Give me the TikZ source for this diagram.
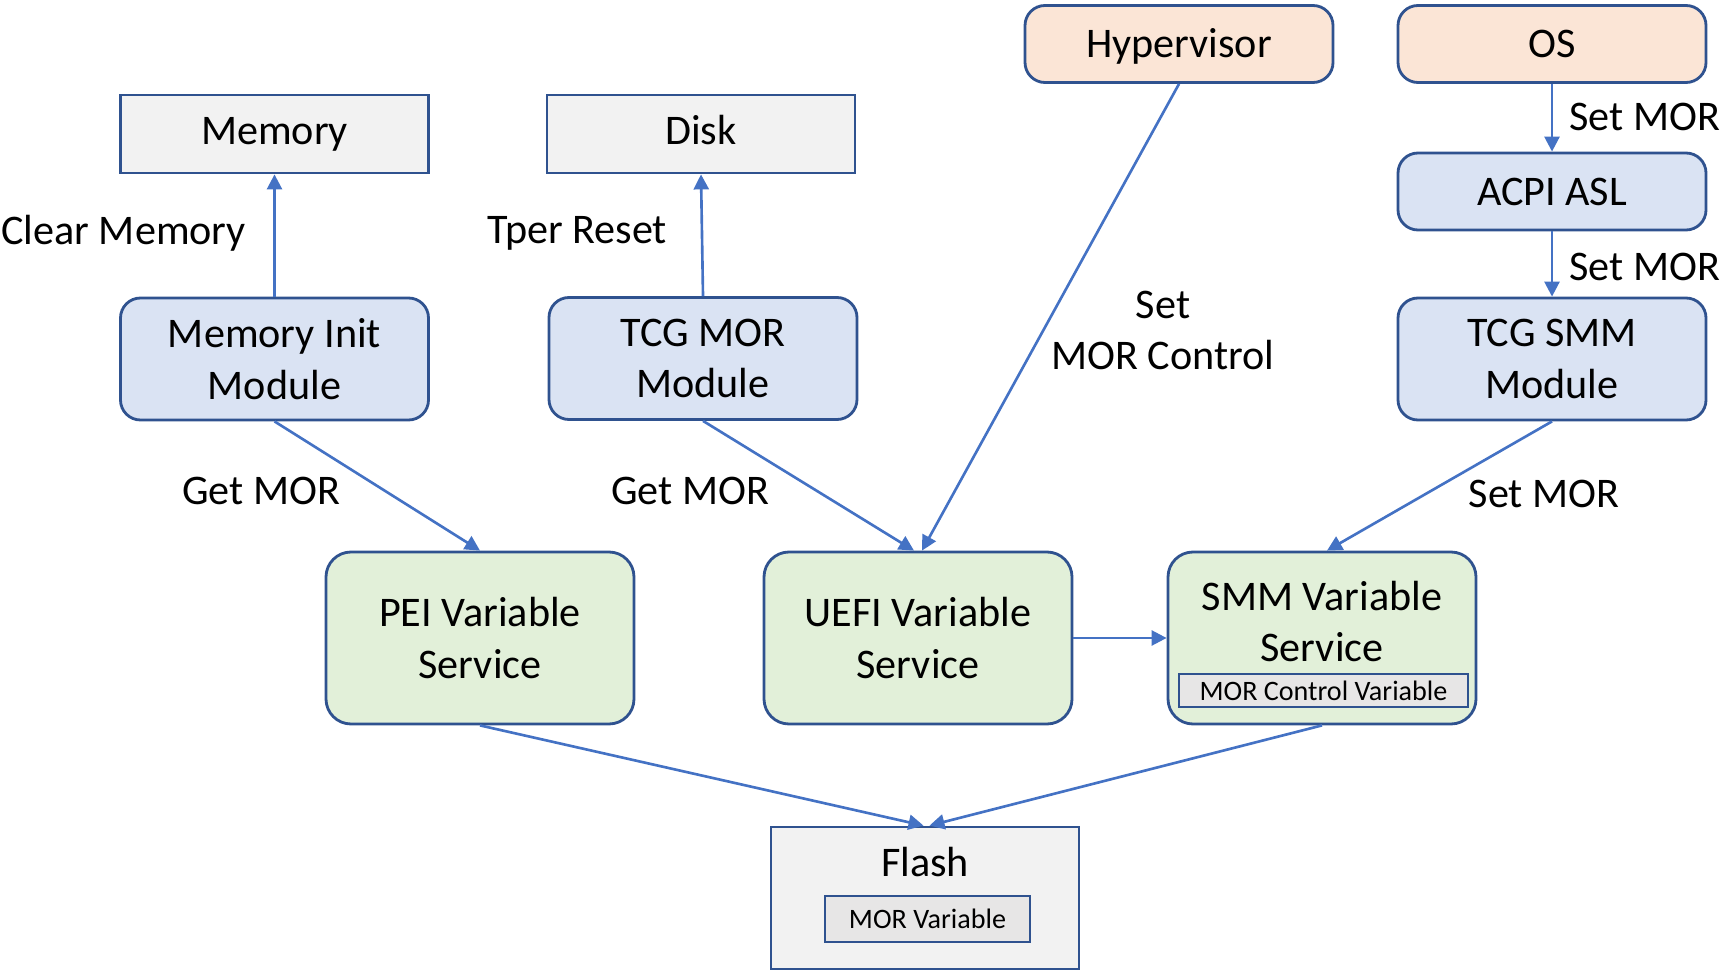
\documentclass[tikz,border=0pt]{standalone}
\usepackage{fontspec}
\setmainfont{Carlito}
\usetikzlibrary{arrows.meta}
\definecolor{lineblue}{HTML}{2F528F}
\definecolor{arrowblue}{HTML}{4472C4}
\definecolor{peach}{HTML}{FBE5D6}
\definecolor{paleblue}{HTML}{DAE3F3}
\definecolor{palegreen}{HTML}{E2F0D9}
\definecolor{palegrey}{HTML}{F2F2F2}
\definecolor{midgrey}{HTML}{E7E6E6}
\tikzset{
  box/.style={draw=lineblue,line width=1.6pt,minimum width=6.16cm,align=center,inner sep=0pt},
  hw/.style={box,fill=palegrey,minimum height=1.56cm,text height=0.64cm,text depth=0.21cm},
  sw/.style={box,rounded corners=0.4cm,fill=peach,minimum height=1.54cm,text height=0.55cm,text depth=0cm},
  module/.style={box,rounded corners=0.4cm,fill=paleblue,minimum height=2.44cm},
  service/.style={box,rounded corners=0.5cm,fill=palegreen,minimum height=3.44cm},
  var/.style={draw=lineblue,line width=1.6pt,fill=midgrey,font=\fontsize{16}{19}\selectfont,inner sep=0pt},
  lbl/.style={inner sep=0pt,align=center},
  flow/.style={->,draw=arrowblue,line width=1.5pt},
}
\begin{document}
\begin{tikzpicture}[font=\fontsize{24}{29.4}\selectfont,>={Triangle[length=0.3cm,width=0.3cm]}]
	\useasboundingbox (0,0) rectangle (34.5,19.42);
	% top row
	\node[hw] (memory) at (5.49,16.74) {Memory};
	\node[hw] (disk) at (14.02,16.74) {Disk};
	\node[sw] (hyper) at (23.58,18.54) {Hypervisor};
	\node[sw] (os) at (31.04,18.54) {OS};
	\node[sw,fill=paleblue] (acpi) at (31.04,15.59) {ACPI ASL};
	% modules
	\node[module] (meminit) at (5.49,12.24) {Memory Init\\Module};
	\node[module] (tcgmor) at (14.06,12.25) {TCG MOR\\Module};
	\node[module] (tcgsmm) at (31.04,12.24) {TCG SMM\\Module};
	% variable services
	\node[service] (pei) at (9.6,6.66) {PEI Variable\\Service};
	\node[service] (uefi) at (18.36,6.66) {UEFI Variable\\Service};
	\node[service] (smm) at (26.44,6.66) {};
	\node[lbl] (smmtext) at ([yshift=0.33cm]smm.center) {SMM Variable\\Service};
	\node[var,minimum width=5.78cm,minimum height=0.66cm] (morctrl) at (26.47,5.61) {MOR Control Variable};
	% flash
	\node[box,fill=palegrey,minimum height=2.84cm] (flash) at (18.5,1.46) {};
	\node[lbl] (flashtext) at (18.5,2.18) {Flash};
	\node[var,minimum width=4.1cm,minimum height=0.92cm] (morvar) at (18.55,1.04) {MOR Variable};
	% labels
	\node[lbl,anchor=west] (clearlbl) at (0.02,14.76) {Clear Memory};
	\node[lbl] (tperlbl) at (11.54,14.76) {Tper Reset};
	\node[lbl] (ctrllbl) at (23.26,12.81) {Set\\MOR Control};
	\node[lbl,anchor=west] (oslbl) at (31.38,17.08) {Set MOR};
	\node[lbl,anchor=west] (acpilbl) at (31.38,14.08) {Set MOR};
	\node[lbl] (getlbla) at (5.22,9.6) {Get MOR};
	\node[lbl] (getlblb) at (13.8,9.6) {Get MOR};
	\node[lbl] (setlbl) at (30.88,9.54) {Set MOR};
	% connectors
	\draw[flow] (meminit.north) -- (memory.south);
	\draw[flow] (tcgmor.north) -- (disk.south);
	\draw[flow] (os.south) -- (acpi.north);
	\draw[flow] (acpi.south) -- (tcgsmm.north);
	\draw[flow] (meminit.south) -- (pei.north);
	\draw[flow] (tcgmor.south) -- ([xshift=-0.08cm]uefi.north);
	\draw[flow] (hyper.south) -- ([xshift=0.08cm]uefi.north);
	\draw[flow] (tcgsmm.south) -- ([xshift=0.1cm]smm.north);
	\draw[flow] (uefi.east) -- (smm.west);
	\draw[flow] (pei.south) -- ([xshift=-0.03cm]flash.north);
	\draw[flow] (smm.south) -- ([xshift=0.09cm]flash.north);
\end{tikzpicture}
\end{document}
